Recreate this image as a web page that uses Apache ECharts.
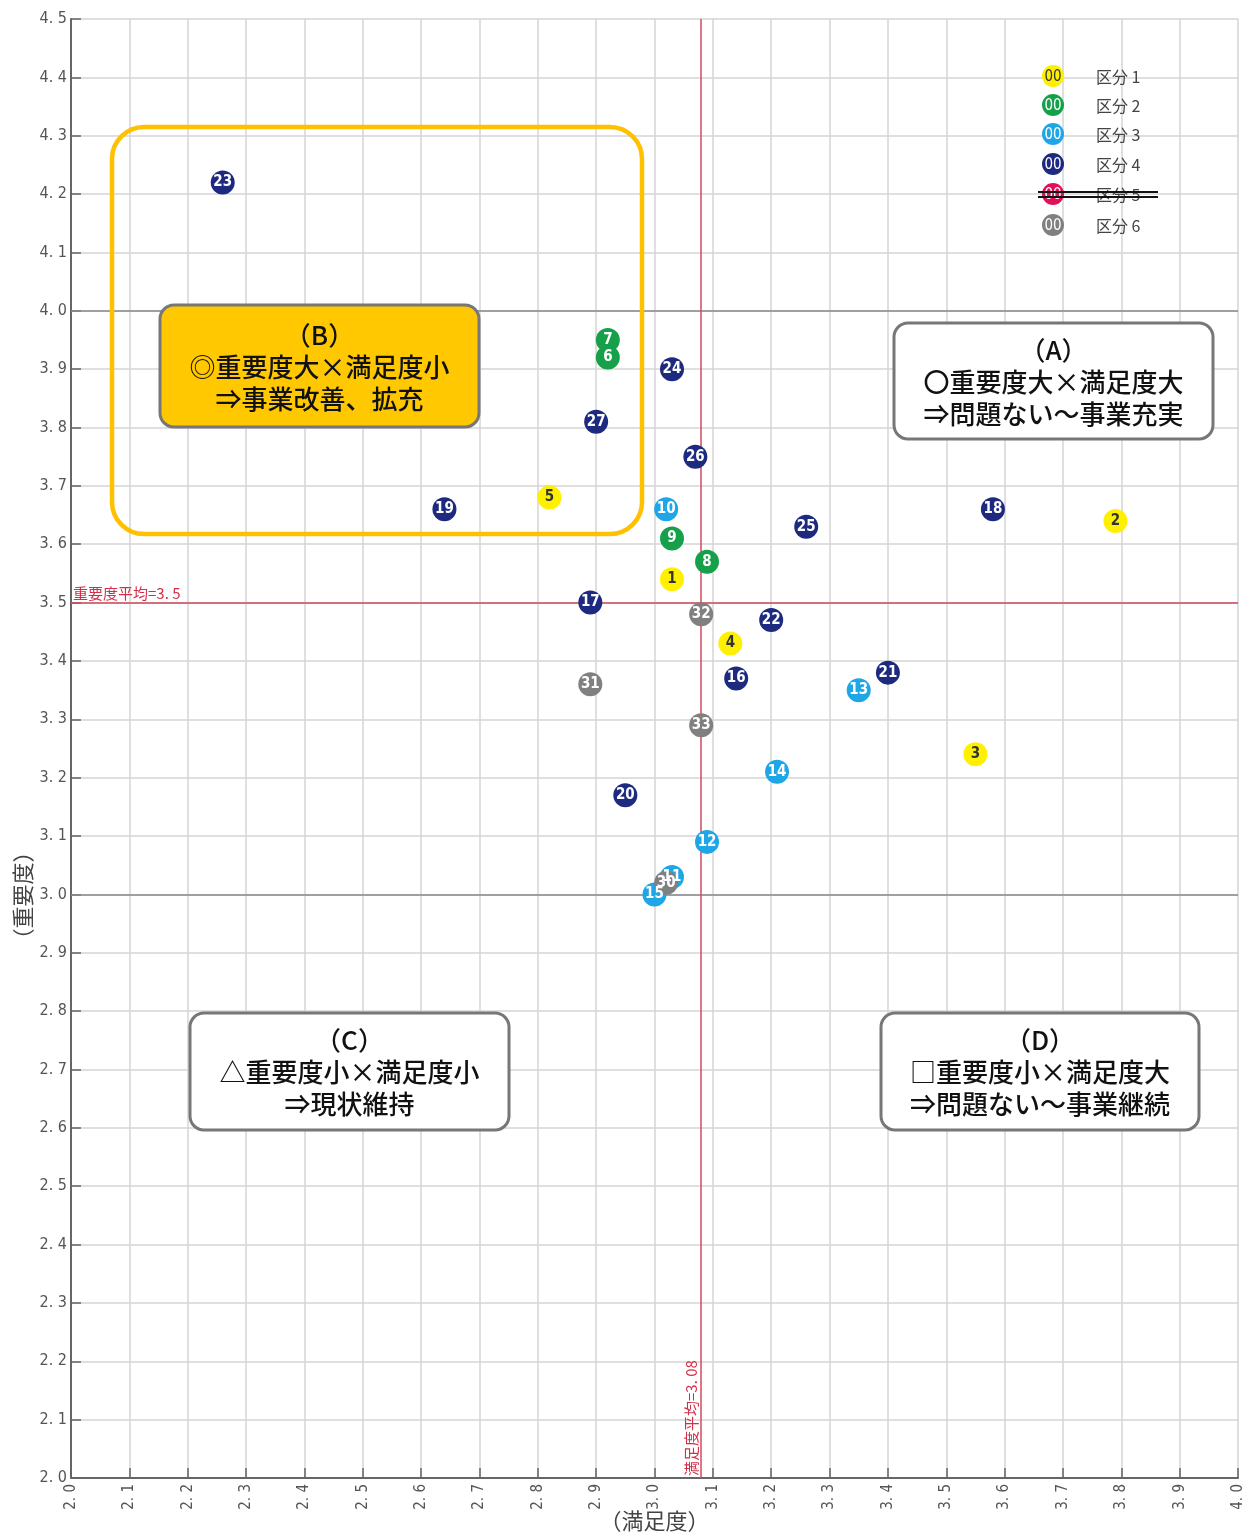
<!DOCTYPE html>
<html>
<head>
<meta charset="utf-8">
<script src="https://cdn.jsdelivr.net/npm/echarts@6/dist/echarts.min.js"></script>
<style>
    html, body { margin: 0; padding: 0; background: #fff; }
    #chart { width: 1248px; height: 1535px; }
</style>
</head>
<body>
<div id="chart"></div>
<script>
    // 満足度(x), 重要度(y), 番号
    const group1 = [[3.03, 3.54, '1'], [3.79, 3.64, '2'], [3.55, 3.24, '3'], [3.13, 3.43, '4'], [2.82, 3.68, '5']]
    const group2 = [[2.92, 3.92, '6'], [2.92, 3.95, '7'], [3.09, 3.57, '8'], [3.03, 3.61, '9']]
    const group3 = [[3.02, 3.66, '10'], [3.03, 3.03, '11'], [3.09, 3.09, '12'], [3.35, 3.35, '13'], [3.21, 3.21, '14'], [3.00, 3.00, '15']]
    const group4 = [[3.14, 3.37, '16'], [2.89, 3.50, '17'], [3.58, 3.66, '18'], [2.64, 3.66, '19'], [2.95, 3.17, '20'],
        [3.40, 3.38, '21'], [3.20, 3.47, '22'], [2.26, 4.22, '23'], [3.03, 3.90, '24'], [3.26, 3.63, '25'],
        [3.07, 3.75, '26'], [2.90, 3.81, '27']]
    const group6 = [[3.02, 3.02, '30'], [2.89, 3.36, '31'], [3.08, 3.48, '32'], [3.08, 3.29, '33']]

    const legendNames = ['区分 1', '区分 2', '区分 3', '区分 4', '区分 5', '区分 6']
    const colors = ['#FFF000', '#16A04A', '#1FA6E6', '#1E2A80', '#E0105A', '#808080']

    const avgImportance = 3.5
    const avgSatisfaction = 3.08

    const fmt = v => v.toFixed(1).replace('.', '. ')
    const narrow = '"Liberation Sans Narrow", "DejaVu Sans Condensed", Arial, sans-serif'
    const jp = '"Noto Sans CJK JP", sans-serif'

    const chart = echarts.init(document.getElementById('chart'))

    function pointSeries (data, idx) {
        return {
            type: 'scatter',
            name: legendNames[idx],
            data: data,
            symbolSize: 24,
            itemStyle: { color: colors[idx], opacity: 1 },
            label: {
                show: true,
                position: 'inside',
                formatter: p => p.data[2],
                color: idx === 0 ? '#333' : '#fff',
                fontFamily: narrow,
                fontWeight: 'bold',
                fontSize: 15
            },
            z: 5
        }
    }

    // 凡例 (区分5は取り消し線)
    const legendItems = []
    const rowY = [76, 105, 134, 164, 194, 225]
    legendNames.forEach((n, i) => {
        legendItems.push({
            type: 'circle', shape: { cx: 1053, cy: rowY[i], r: 11 },
            style: { fill: colors[i] }, z: 20
        })
        legendItems.push({
            type: 'text', x: 1053, y: rowY[i] + 1,
            style: { text: '00', fill: i === 0 ? '#333' : '#fff', font: '15px ' + narrow, align: 'center', verticalAlign: 'middle' },
            z: 21
        })
        legendItems.push({
            type: 'text', x: 1096, y: rowY[i] + 1,
            style: { text: n, fill: '#444', font: '16px ' + jp, verticalAlign: 'middle' },
            z: 21
        })
    })
    legendItems.push({ type: 'line', shape: { x1: 1038, y1: 192, x2: 1158, y2: 192 }, style: { stroke: '#111', lineWidth: 2 }, z: 22 })
    legendItems.push({ type: 'line', shape: { x1: 1038, y1: 197, x2: 1158, y2: 197 }, style: { stroke: '#111', lineWidth: 2 }, z: 22 })

    function quadBox (x, y, w, h, fill, lines) {
        return [{
            type: 'rect',
            shape: { x: x, y: y, width: w, height: h, r: 14 },
            style: { fill: fill, stroke: '#777', lineWidth: 3 },
            z: 10
        }, {
            type: 'text',
            x: x + w / 2, y: y + h / 2 + 1,
            style: {
                text: lines.join('\n'), fill: '#111', font: '500 26px ' + jp,
                align: 'center', verticalAlign: 'middle', lineHeight: 32
            },
            z: 11
        }]
    }

    const boxes = [].concat(
        [{
            type: 'rect',
            shape: { x: 112, y: 127, width: 530, height: 407, r: 32 },
            style: { fill: 'none', stroke: '#FFC000', lineWidth: 4.5 },
            z: 9
        }],
        quadBox(160, 305, 319, 122, '#FFC800', ['（B）', '◎重要度大×満足度小', '⇒事業改善、拡充']),
        quadBox(894, 323, 319, 116, '#fff', ['（A）', '〇重要度大×満足度大', '⇒問題ない～事業充実']),
        quadBox(190, 1013, 319, 117, '#fff', ['（C）', '△重要度小×満足度小', '⇒現状維持']),
        quadBox(881, 1013, 318, 117, '#fff', ['（D）', '□重要度小×満足度大', '⇒問題ない～事業継続'])
    )

    chart.setOption({
        animation: false,
        backgroundColor: '#fff',
        grid: { left: 71, right: 10, top: 19, bottom: 57, outerBoundsMode: 'none', containLabel: false },
        xAxis: {
            type: 'value',
            min: 2.0, max: 4.0, interval: 0.1,
            name: '（満足度）',
            nameLocation: 'middle',
            nameGap: 32,
            nameMoveOverlap: false,
            nameTextStyle: { fontFamily: jp, fontSize: 22, color: '#444' },
            axisLine: { show: true, lineStyle: { color: '#666', width: 2 } },
            axisTick: { show: true, inside: true, length: 10, lineStyle: { color: '#666', width: 1.5 } },
            axisLabel: { rotate: 90, formatter: fmt, color: '#555', fontFamily: narrow, fontSize: 15, margin: 6 },
            splitLine: { show: true, lineStyle: { color: '#d4d4d4', width: 1.5 } }
        },
        yAxis: {
            type: 'value',
            min: 2.0, max: 4.5, interval: 0.1,
            name: '（重要度）',
            nameLocation: 'middle',
            nameGap: 37,
            nameMoveOverlap: false,
            // 名前は3.0付近に置く
            nameTextStyle: { fontFamily: jp, fontSize: 22, color: '#444', padding: [0, 294, 0, 0] },
            axisLine: { show: true, lineStyle: { color: '#666', width: 2 } },
            axisTick: { show: true, inside: true, length: 10, lineStyle: { color: '#666', width: 1.5 } },
            axisLabel: { formatter: fmt, color: '#555', fontFamily: narrow, fontSize: 16, margin: 4 },
            splitLine: { show: true, lineStyle: { color: '#d4d4d4', width: 1.5 } }
        },
        graphic: legendItems.concat(boxes),
        series: [
            {
                type: 'scatter',
                data: [],
                silent: true,
                markLine: {
                    silent: true,
                    symbol: 'none',
                    label: { show: false },
                    lineStyle: { color: '#8a8a8a', width: 1.5, type: 'solid' },
                    data: [{ yAxis: 4.0 }, { yAxis: 3.0 }]
                },
                z: 3
            },
            {
                type: 'scatter',
                data: [],
                silent: true,
                markLine: {
                    silent: true,
                    symbol: 'none',
                    lineStyle: { color: '#D2485C', width: 1.5, type: 'solid' },
                    label: { color: '#D2304A', fontFamily: jp, fontSize: 15, distance: 2 },
                    data: [
                        { yAxis: avgImportance, label: { position: 'insideStartTop', formatter: '重要度平均=3. 5' } },
                        { xAxis: avgSatisfaction, label: { position: 'insideStartTop', formatter: '満足度平均=3. 08' } }
                    ]
                },
                z: 4
            },
            pointSeries(group1, 0),
            pointSeries(group2, 1),
            pointSeries(group3, 2),
            pointSeries(group4, 3),
            pointSeries(group6, 5)
        ]
    })
</script>
</body>
</html>
